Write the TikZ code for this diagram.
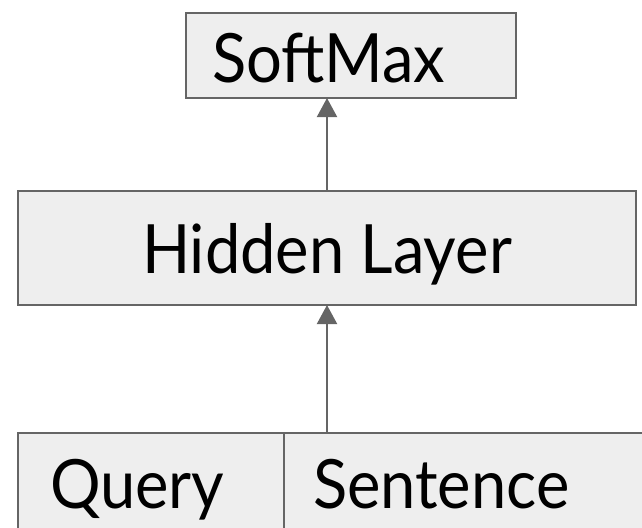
\documentclass[tikz,border=0pt]{standalone}
\usepackage{fontspec}
\setmainfont[FakeStretch=0.93]{Lato}
\usepackage{tikz}
\usetikzlibrary{positioning, arrows.meta}
\definecolor{boxfill}{HTML}{EEEEEE}
\definecolor{boxline}{HTML}{656565}

\begin{document}
\begin{tikzpicture}[x=1pt,y=-1pt,
    layer/.style={rectangle,draw=boxline,fill=boxfill,line width=2.2pt,
      inner ysep=0pt,outer sep=0pt,font=\fontsize{68}{80}\selectfont},
    feed/.style={draw=boxline,line width=2pt,-{Triangle[length=19pt,width=20pt]}}
    ]
    \useasboundingbox (0,0) rectangle (642,527);
    \node [layer,anchor=north west,text width=278pt,inner xsep=26pt,align=left,
      text height=69pt,text depth=16pt] (softmax) at (186,13) {SoftMax};
    \node [layer,anchor=north west,minimum width=618pt,
      text height=82pt,text depth=32pt] (hidden) at (18,191) {Hidden Layer};
    \node [layer,anchor=north west,text width=202pt,inner xsep=32pt,align=left,
      text height=75pt,text depth=60pt] (query) at (18,433) {Query};
    \node [layer,right=0pt of query,text width=362pt,inner xsep=29pt,align=left,
      text height=75pt,text depth=60pt] (sentence) {Sentence};
    \draw [feed] (hidden.north) -- (hidden.north |- softmax.south);
    \draw [feed] (hidden.south |- sentence.north) -- (hidden.south);
\end{tikzpicture}
\end{document}
